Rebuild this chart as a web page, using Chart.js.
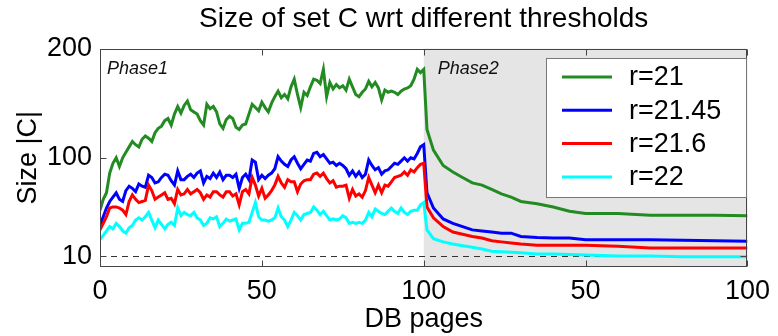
<!DOCTYPE html>
<html>
<head>
<meta charset="utf-8">
<script src="https://cdn.jsdelivr.net/npm/chart.js@4/dist/chart.umd.min.js"></script>
<style>
   html, body { margin: 0; padding: 0; background: #fff; }
   #wrap { width: 778px; height: 336px; }
</style>
</head>
<body>
<div id="wrap"><canvas id="chart" width="778" height="336"></canvas></div>
<script>
// Values

const seriesNames = ["r=21", "r=21.45", "r=21.6", "r=22"];
const seriesColors = ["#228b22", "#0000ff", "#ff0000", "#00ffff"];

// x axis: 0..100 for phase 1, then 100..200 shown again as 0..100 for phase 2
const xTickValues = [0, 50, 100, 150, 200];
const xTickLabels = ["0", "50", "100", "50", "100"];
const yTickValues = [10, 100, 200];

// Phase 1: one value per DB page (0..99)
const phase1Green = [52, 62, 68, 86, 95, 100, 92, 100, 105, 110, 115, 112, 110, 117, 120, 118, 115, 123, 127, 129,
   134, 136, 130, 140, 147, 141, 148, 152, 144, 142, 140, 134, 130, 149, 145, 147, 142, 131, 127, 135,
   138, 136, 128, 126, 130, 131, 140, 149, 146, 143, 151, 146, 142, 150, 156, 161, 155, 158, 154, 165,
   172, 158, 146, 160, 157, 165, 172, 171, 168, 181, 156, 169, 163, 167, 164, 166, 162, 172, 165, 158,
   156, 160, 163, 170, 165, 169, 164, 153, 162, 160, 161, 160, 158, 161, 163, 164, 166, 172, 181, 178];
const phase1Blue = [38, 46, 54, 60, 64, 68, 62, 60, 70, 74, 72, 69, 76, 74, 73, 84, 82, 77, 78, 82,
   85, 84, 79, 75, 88, 80, 80, 83, 85, 82, 86, 88, 77, 83, 81, 86, 82, 87, 80, 84,
   84, 82, 85, 72, 82, 85, 80, 98, 96, 80, 84, 81, 84, 86, 90, 101, 97, 94, 92, 98,
   101, 95, 90, 94, 98, 97, 104, 105, 101, 103, 99, 95, 96, 93, 95, 93, 90, 84, 88, 83,
   87, 82, 85, 98, 93, 89, 91, 85, 88, 89, 92, 95, 94, 97, 100, 97, 100, 99, 104, 110];
const phase1Red = [34, 40, 46, 54, 55, 55, 54, 52, 48, 60, 66, 62, 59, 60, 61, 75, 70, 62, 64, 66,
   68, 62, 63, 58, 71, 66, 67, 71, 67, 69, 71, 68, 62, 66, 64, 69, 69, 66, 64, 69,
   69, 65, 67, 57, 69, 71, 67, 82, 75, 65, 72, 63, 66, 70, 75, 83, 77, 73, 80, 78,
   78, 69, 76, 79, 80, 80, 85, 86, 83, 86, 81, 77, 79, 73, 74, 74, 75, 63, 71, 65,
   67, 64, 70, 82, 75, 68, 75, 68, 75, 74, 78, 82, 83, 84, 87, 84, 89, 87, 91, 94];
const phase1Cyan = [25, 29, 33, 37, 35, 40, 37, 33, 31, 36, 38, 43, 45, 43, 46, 50, 43, 36, 43, 39,
   35, 39, 41, 38, 54, 47, 50, 48, 47, 50, 45, 43, 38, 40, 45, 44, 46, 37, 40, 44,
   42, 43, 44, 34, 40, 40, 41, 50, 59, 46, 43, 43, 42, 43, 45, 54, 46, 43, 37, 43,
   50, 47, 43, 48, 49, 50, 55, 52, 48, 51, 47, 43, 44, 43, 44, 47, 45, 40, 41, 40,
   41, 40, 43, 50, 46, 53, 51, 49, 48, 51, 54, 51, 49, 54, 50, 48, 51, 52, 52, 57];

// Phase 2: pages where the curves were read
const phase2X = [100, 101, 103, 106, 109, 112, 115, 118, 121, 124, 127, 130, 135, 140, 145, 150, 155, 160, 170, 180, 190, 200];
const phase2Green = [181, 126, 107, 93, 87, 82, 77, 75, 71, 67, 64, 60, 58, 55, 51, 49, 49, 49, 47.5, 47.5, 47.5, 47];
const phase2Blue = [112, 68, 54, 44, 40, 37, 34, 33, 32, 31, 31, 28, 27, 26.5, 26.5, 25, 25, 25, 25, 24.5, 24, 23.5];
const phase2Red = [95, 55, 45, 37, 32, 30, 28, 26.5, 24, 23, 22, 21, 20, 20, 20, 20, 19.5, 19, 17.5, 17.5, 17.5, 17.5];
const phase2Cyan = [59, 34, 26, 23, 21, 19.5, 18, 16.5, 14.5, 14, 13.5, 13, 12, 12, 11.5, 11, 10.5, 10, 10, 9.5, 9.5, 9.5];

const FONT = "'Liberation Sans', Arial, sans-serif";

function toPoints(p1, p2) {
   const pts = p1.map((v, i) => ({ x: i, y: v }));
   p2.forEach((v, i) => pts.push({ x: phase2X[i], y: v }));
   return pts;
}

const allSeries = [
   toPoints(phase1Green, phase2Green),
   toPoints(phase1Blue, phase2Blue),
   toPoints(phase1Red, phase2Red),
   toPoints(phase1Cyan, phase2Cyan),
];

// Background shading, dashed line, frame, inner ticks, phase labels and legend
const decorPlugin = {
   id: "decor",
   beforeDatasetsDraw(chart) {
      const { ctx, chartArea: a, scales } = chart;
      const x = scales.x, y = scales.y;
      ctx.save();
      const xs = x.getPixelForValue(100);
      ctx.fillStyle = "#e5e5e5";
      ctx.fillRect(xs, a.top, a.right - xs, a.bottom - a.top);

      ctx.strokeStyle = "#333";
      ctx.lineWidth = 1;
      ctx.setLineDash([6, 5]);
      const y10 = Math.round(y.getPixelForValue(10)) + 0.5;
      ctx.beginPath();
      ctx.moveTo(a.left, y10);
      ctx.lineTo(a.right, y10);
      ctx.stroke();
      ctx.setLineDash([]);

      ctx.fillStyle = "#111";
      ctx.font = "italic 18px " + FONT;
      ctx.textBaseline = "alphabetic";
      ctx.textAlign = "left";
      ctx.fillText("Phase1", a.left + 7, a.top + 25);
      ctx.fillText("Phase2", xs + 14, a.top + 25);
      ctx.restore();
   },
   afterDatasetsDraw(chart) {
      const { ctx, chartArea: a, scales } = chart;
      const x = scales.x, y = scales.y;
      ctx.save();
      ctx.strokeStyle = "#444";
      ctx.lineWidth = 1;
      const L = Math.round(a.left) + 0.5, R = Math.round(a.right) - 0.5;
      const T = Math.round(a.top) + 0.5, B = Math.round(a.bottom) - 0.5;
      ctx.strokeRect(L, T, R - L, B - T);
      ctx.beginPath();
      xTickValues.forEach((v) => {
         const px = Math.round(x.getPixelForValue(v)) + 0.5;
         ctx.moveTo(px, B); ctx.lineTo(px, B - 6);
         ctx.moveTo(px, T); ctx.lineTo(px, T + 6);
      });
      yTickValues.forEach((v) => {
         const py = Math.round(y.getPixelForValue(v)) + 0.5;
         ctx.moveTo(L, py); ctx.lineTo(L + 6, py);
         ctx.moveTo(R, py); ctx.lineTo(R - 6, py);
      });
      ctx.stroke();

      // legend box
      const bx = 546, by = 58, bw = 200, bh = 139;
      ctx.fillStyle = "#fff";
      ctx.fillRect(bx, by, bw, bh);
      ctx.strokeStyle = "#777";
      ctx.strokeRect(bx + 0.5, by + 0.5, bw, bh);
      ctx.font = "27px " + FONT;
      ctx.textBaseline = "middle";
      ctx.textAlign = "left";
      seriesNames.forEach((name, i) => {
         const ly = by + 19 + i * 33.3;
         ctx.strokeStyle = seriesColors[i];
         ctx.lineWidth = 3;
         ctx.beginPath();
         ctx.moveTo(bx + 16, ly);
         ctx.lineTo(bx + 66, ly);
         ctx.stroke();
         ctx.fillStyle = "#000";
         ctx.fillText(name, bx + 83, ly + 1);
      });
      ctx.restore();
   },
};

new Chart(document.getElementById("chart"), {
   type: "line",
   data: {
      datasets: allSeries.map((pts, i) => ({
         label: seriesNames[i],
         data: pts,
         borderColor: seriesColors[i],
         backgroundColor: seriesColors[i],
         borderWidth: 3,
         pointRadius: 0,
         tension: 0,
         fill: false,
         order: 4 - i,
      })),
   },
   options: {
      responsive: false,
      animation: false,
      layout: { padding: { left: 0, right: 27, top: 0, bottom: 0 } },
      plugins: {
         legend: { display: false },
         tooltip: { enabled: false },
         title: {
            display: true,
            fullSize: false,
            text: "Size of set C wrt different thresholds",
            color: "#000",
            font: { family: FONT, size: 28, weight: "normal" },
            padding: { top: 2, bottom: 13 },
         },
      },
      scales: {
         x: {
            type: "linear",
            min: 0,
            max: 200,
            grid: { display: false, drawTicks: false },
            border: { display: false },
            afterBuildTicks: (scale) => {
               scale.ticks = xTickValues.map((v) => ({ value: v }));
            },
            afterFit: (scale) => {
               scale.height = 69;
            },
            ticks: {
               color: "#000",
               padding: 8,
               maxRotation: 0,
               font: { family: FONT, size: 27 },
               callback: (v) => xTickLabels[xTickValues.indexOf(v)],
            },
            title: {
               display: true,
               text: "DB pages",
               color: "#000",
               font: { family: FONT, size: 27 },
               padding: { top: 0, bottom: 0 },
            },
         },
         y: {
            type: "linear",
            min: 0,
            max: 200,
            grid: { display: false, drawTicks: false },
            border: { display: false },
            afterBuildTicks: (scale) => {
               scale.ticks = yTickValues.map((v) => ({ value: v }));
            },
            afterFit: (scale) => {
               scale.width = 100;
            },
            ticks: {
               color: "#000",
               padding: 8,
               font: { family: FONT, size: 27 },
            },
            title: {
               display: true,
               text: "Size |C|",
               color: "#000",
               font: { family: FONT, size: 27 },
               padding: { top: 12, bottom: 0 },
            },
         },
      },
   },
   plugins: [decorPlugin],
});
</script>
</body>
</html>
